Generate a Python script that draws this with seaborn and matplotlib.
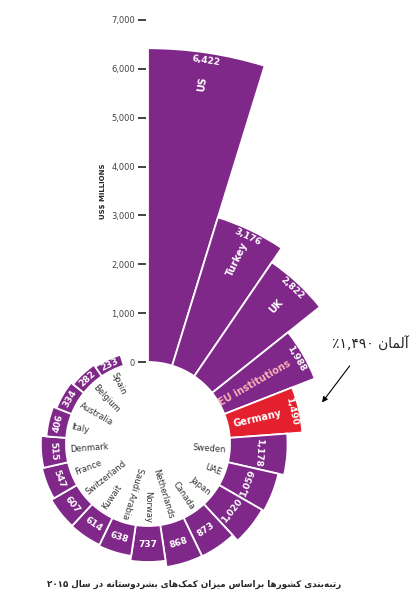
import re
import numpy as np
import matplotlib
matplotlib.use("Agg")
import matplotlib.pyplot as plt
import seaborn as sns

# data (US$ millions, 2015)
countries = ["US", "Turkey", "UK", "EU institutions", "Germany", "Sweden", "UAE",
             "Japan", "Canada", "Netherlands", "Norway", "Saudi Arabia", "Kuwait",
             "Switzerland", "France", "Denmark", "Italy", "Australia", "Belgium", "Spain"]
values = [6422, 3176, 2822, 1988, 1490, 1178, 1059, 1020, 873, 868, 737, 638, 614,
          607, 547, 515, 406, 334, 282, 233]
highlight = "Germany"
inside_names = ["US", "Turkey", "UK", "EU institutions", "Germany"]
y_ticks = [0, 1000, 2000, 3000, 4000, 5000, 6000, 7000]
title_fa = "رتبه\u200cبندی کشورها براساس میزان کمک\u200cهای بشردوستانه در سال ۲۰۱۵"
note_fa = "آلمان ۱,۴۹۰٪"

PURPLE = "#80278A"
RED = "#E4202E"

# matplotlib has no arabic shaping, so pick presentation forms by hand
FORMS = {
    "ا": ("\uFE8D", "\uFE8E", None, None),
    "آ": ("\uFE81", "\uFE82", None, None),
    "ب": ("\uFE8F", "\uFE90", "\uFE91", "\uFE92"),
    "ت": ("\uFE95", "\uFE96", "\uFE97", "\uFE98"),
    "د": ("\uFEA9", "\uFEAA", None, None),
    "ر": ("\uFEAD", "\uFEAE", None, None),
    "ز": ("\uFEAF", "\uFEB0", None, None),
    "س": ("\uFEB1", "\uFEB2", "\uFEB3", "\uFEB4"),
    "ش": ("\uFEB5", "\uFEB6", "\uFEB7", "\uFEB8"),
    "ل": ("\uFEDD", "\uFEDE", "\uFEDF", "\uFEE0"),
    "م": ("\uFEE1", "\uFEE2", "\uFEE3", "\uFEE4"),
    "ن": ("\uFEE5", "\uFEE6", "\uFEE7", "\uFEE8"),
    "ه": ("\uFEE9", "\uFEEA", "\uFEEB", "\uFEEC"),
    "و": ("\uFEED", "\uFEEE", None, None),
    "ک": ("\uFB8E", "\uFB8F", "\uFB90", "\uFB91"),
    "ی": ("\uFBFC", "\uFBFD", "\uFBFE", "\uFBFF"),
}


def farsi(text):
    out = []
    for i, ch in enumerate(text):
        if ch not in FORMS:
            if ch != "\u200c":
                out.append(ch)
            continue
        prev = text[i - 1] if i > 0 else ""
        nxt = text[i + 1] if i + 1 < len(text) else ""
        join_prev = prev in FORMS and FORMS[prev][2] is not None
        join_next = nxt in FORMS and FORMS[ch][2] is not None
        iso, fin, ini, med = FORMS[ch]
        if join_prev and join_next:
            out.append(med)
        elif join_prev:
            out.append(fin)
        elif join_next:
            out.append(ini)
        else:
            out.append(iso)
    s = "".join(reversed(out))
    # numbers stay left to right
    return re.sub(r"[۰-۹,]+", lambda m: m.group(0)[::-1], s)


sns.set_style("white")
plt.rcParams["font.family"] = ["Liberation Sans Narrow", "DejaVu Sans"]

W, H = 412, 607
cx, cy = 148, 444          # centre of the ring, pixels from top left
r_in = 82                  # radius of the white hole, pixels
k = 342 / 7000             # pixels per US$ million
r0 = r_in / k
R = r_in + 7000 * k

fig = plt.figure(figsize=(W / 100, H / 100), dpi=100)
ax = fig.add_axes([(cx - R) / W, (H - cy - R) / H, 2 * R / W, 2 * R / H], projection="polar")
ax.set_theta_zero_location("N")
ax.set_theta_direction(-1)
ax.set_ylim(0, r0 + 7000)

width = 2 * np.pi / (len(countries) + 1)   # one empty slot left for the scale
theta = (np.arange(len(countries)) + 0.5) * width
colors = [RED if c == highlight else PURPLE for c in countries]
ax.bar(theta, values, width=width, bottom=r0, color=colors,
       edgecolor="white", linewidth=1.3, align="center")
ax.set_axis_off()

for th, c, v in zip(theta, countries, values):
    deg = np.degrees(th)
    if c in inside_names:
        ax.text(th, r0 + v - 160, f"{v:,}", rotation=-deg, rotation_mode="anchor",
                ha="center", va="center", color="white", fontsize=6.5, fontweight="bold")
        r_name = r0 + v - 650 if v > 2500 else r0 + v * 0.42
        ax.text(th, r_name, c, rotation=90 - deg, rotation_mode="anchor",
                ha="center", va="center", fontsize=7, fontweight="bold",
                color="#F7B3B5" if c == "EU institutions" else "white")
    else:
        rot = -deg
        if deg > 100:
            rot += 180 if deg < 270 else 360
        ax.text(th, r0 + v / 2, f"{v:,}", rotation=rot, rotation_mode="anchor",
                ha="center", va="center", color="white", fontsize=6.5, fontweight="bold")
        if deg < 205:
            ax.text(th, r0 - 70, c, rotation=90 - deg, rotation_mode="anchor",
                    ha="right", va="center", color="#333333", fontsize=6)
        else:
            ax.text(th, r0 - 70, c, rotation=270 - deg, rotation_mode="anchor",
                    ha="left", va="center", color="#333333", fontsize=6)

# arrow and note pointing at Germany
g = countries.index(highlight)
tip = (theta[g], r0 + values[g] + 450)
ax.annotate("", xy=tip, xytext=(31, 41), textcoords="offset pixels",
            arrowprops=dict(arrowstyle="-|>", color="black", lw=0.8, mutation_scale=8))
ax.annotate(farsi(note_fa), xy=tip, xytext=(50, 60), textcoords="offset pixels",
            ha="center", va="center", fontsize=10, family="DejaVu Sans", color="#222222")

# value scale on the left of the US bar
yax = fig.add_axes([(cx - 2) / W, (H - cy + r_in) / H, 0.001, 7000 * k / H])
yax.set_ylim(0, 7000)
yax.set_yticks(y_ticks)
yax.set_yticklabels([f"{t:,}" for t in y_ticks])
yax.set_xticks([])
yax.patch.set_alpha(0)
for s in yax.spines.values():
    s.set_visible(False)
yax.tick_params(axis="y", left=True, length=6, width=1.2, color="#222222",
                labelsize=6, labelcolor="#444444", pad=2)
yax.set_ylabel("US$ MILLIONS", fontsize=5, fontweight="bold", labelpad=4)

fig.text(194 / W, 1 - 584 / H, farsi(title_fa), ha="center", va="center",
         fontsize=6.3, fontweight="bold", family="DejaVu Sans")

fig.savefig("out.png", dpi=100)
